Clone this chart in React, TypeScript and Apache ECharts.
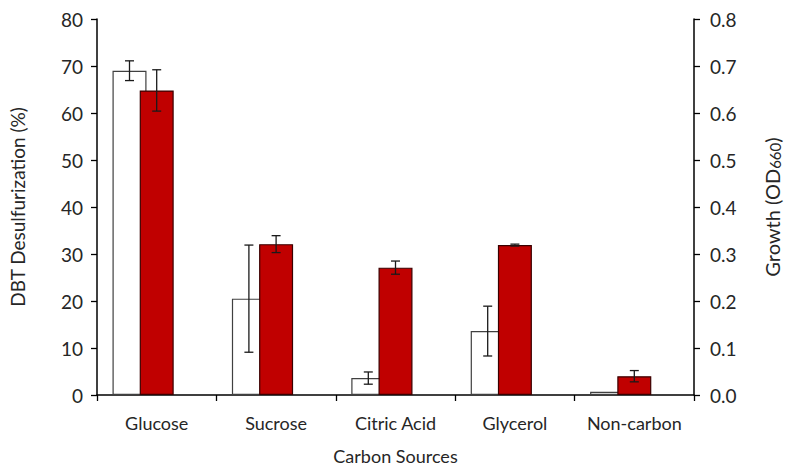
import React, { useEffect, useRef } from "react";
import * as echarts from "echarts";

const categories = ["Glucose", "Sucrose", "Citric Acid", "Glycerol", "Non-carbon"];
const desulfurization = [69, 20.5, 3.6, 13.6, 0.7];
const desulfurizationErr = [2.1, 11.4, 1.3, 5.3, 0];
const growth = [0.648, 0.321, 0.271, 0.319, 0.04];
const growthErr = [0.044, 0.018, 0.014, 0.002, 0.012];
const leftTicks = { min: 0, max: 80, interval: 10 };
const rightTicks = { min: 0, max: 0.8, interval: 0.1 };

const BAR_W = 34;
const FONT = "Lato, 'Open Sans', sans-serif";
const TXT = "#262626";

function errorSeries(values: number[], errs: number[], yAxisIndex: number, offset: number) {
  return {
    type: "custom",
    yAxisIndex,
    silent: true,
    z: 10,
    data: values.map((v, i) => [i, v, errs[i]]),
    renderItem: (params: any, api: any) => {
      const idx = api.value(0);
      const v = api.value(1);
      const e = api.value(2);
      if (!e) return null;
      const x = api.coord([idx, v])[0] + offset;
      const yt = api.coord([idx, v + e])[1];
      const yb = api.coord([idx, v - e])[1];
      const st = { stroke: "#1a1a1a", lineWidth: 1.3 };
      const cap = 4.5;
      return {
        type: "group",
        children: [
          { type: "line", shape: { x1: x, y1: yt, x2: x, y2: yb }, style: st },
          { type: "line", shape: { x1: x - cap, y1: yt, x2: x + cap, y2: yt }, style: st },
          { type: "line", shape: { x1: x - cap, y1: yb, x2: x + cap, y2: yb }, style: st },
        ],
      };
    },
  };
}

export default function App() {
  const ref = useRef<HTMLDivElement>(null);
  useEffect(() => {
    if (!ref.current) return;
    const chart = echarts.init(ref.current, undefined, { renderer: "svg" });
    const axisLine = { show: true, lineStyle: { color: "#000", width: 1.5 } };
    const tick = { show: true, length: 6, lineStyle: { color: "#000", width: 1.3 } };
    chart.setOption({
      animation: false,
      textStyle: { fontFamily: FONT },
      grid: { left: 97, right: 91, top: 19, bottom: 74, outerBoundsMode: "none", containLabel: false },
      xAxis: {
        type: "category",
        data: categories,
        name: "Carbon Sources",
        nameLocation: "middle",
        nameGap: 52,
        nameTextStyle: { fontSize: 18, color: TXT, fontFamily: FONT },
        axisLine,
        axisTick: { ...tick, alignWithLabel: false, interval: 0 },
        axisLabel: { fontSize: 18, color: TXT, margin: 19, fontFamily: FONT, interval: 0 },
      },
      yAxis: [
        {
          type: "value",
          min: leftTicks.min,
          max: leftTicks.max,
          interval: leftTicks.interval,
          name: "DBT Desulfurization (%)",
          nameLocation: "middle",
          nameGap: 70,
          nameTextStyle: { fontSize: 19, color: TXT, fontFamily: FONT },
          axisLine,
          axisTick: tick,
          axisLabel: { fontSize: 19, color: TXT, margin: 14, fontFamily: FONT },
          splitLine: { show: false },
        },
        {
          type: "value",
          min: rightTicks.min,
          max: rightTicks.max,
          interval: rightTicks.interval,
          name: "Growth (OD{sub|660})",
          nameLocation: "middle",
          nameGap: 67,
          nameRotate: 90,
          nameTextStyle: {
            fontSize: 20,
            color: TXT,
            fontFamily: FONT,
            rich: { sub: { fontSize: 15, color: TXT, fontFamily: FONT, padding: [6, 0, 0, 0] } },
          },
          axisLine,
          axisTick: tick,
          axisLabel: {
            fontSize: 19,
            color: TXT,
            margin: 16,
            fontFamily: FONT,
            formatter: (v: number) => v.toFixed(1),
          },
          splitLine: { show: false },
        },
      ],
      series: [
        {
          type: "bar",
          name: "DBT Desulfurization",
          yAxisIndex: 0,
          data: desulfurization,
          barWidth: BAR_W,
          barGap: "-20%",
          itemStyle: { color: "#ffffff", borderColor: "#404040", borderWidth: 1.2 },
          z: 2,
        },
        {
          type: "bar",
          name: "Growth",
          yAxisIndex: 1,
          data: growth,
          barWidth: BAR_W,
          barGap: "-20%",
          itemStyle: { color: "#c00000", borderColor: "#3a0000", borderWidth: 1.2 },
          z: 3,
        },
        {
          type: "bar",
          name: "spacer",
          yAxisIndex: 0,
          data: categories.map(() => null),
          barWidth: BAR_W,
          barGap: "-20%",
        },
        errorSeries(desulfurization, desulfurizationErr, 0, -0.8 * BAR_W),
        errorSeries(growth, growthErr, 1, 0),
      ],
    });
    return () => chart.dispose();
  }, []);
  return <div ref={ref} style={{ position: "absolute", left: 0, top: 0, width: 785, height: 469 }} />;
}
